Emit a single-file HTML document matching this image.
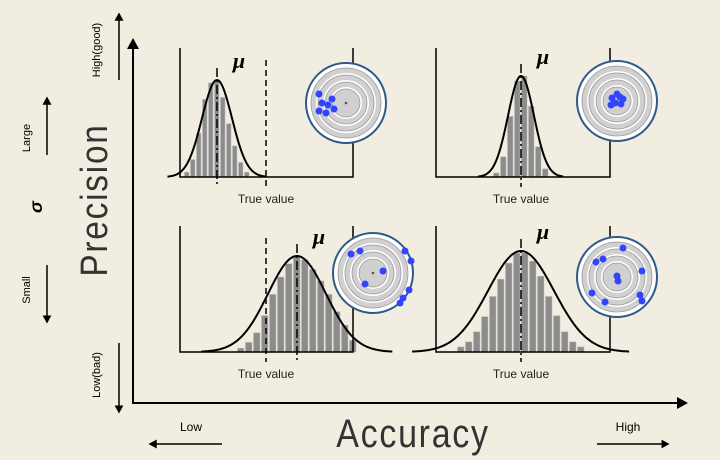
<!DOCTYPE html>
<html><head><meta charset="utf-8"><style>
body{margin:0;background:#f1ede0;}
svg{display:block;font-family:"Liberation Sans",sans-serif;}
</style></head><body>
<svg id="c" width="720" height="460">
<rect width="720" height="460" fill="#f1ede0"/>
<defs><marker id="ah" markerWidth="6" markerHeight="6" refX="4.5" refY="3" orient="auto"><path d="M0,0 L5.5,3 L0,6 Z" fill="#000"/></marker></defs>
<g id="axes">
<line x1="133" y1="404" x2="133" y2="40" stroke="#000" stroke-width="2" marker-end="url(#ah)"/>
<line x1="133" y1="403" x2="686" y2="403" stroke="#000" stroke-width="2" marker-end="url(#ah)"/>
<text transform="translate(107,200) rotate(-90) scale(0.88,1)" text-anchor="middle" font-size="38" fill="#333" letter-spacing="2">Precision</text>
<text transform="translate(413,447) scale(0.85,1)" text-anchor="middle" font-size="40" fill="#333" letter-spacing="2">Accuracy</text>
<text transform="translate(100,50) rotate(-90)" text-anchor="middle" font-size="11">High(good)</text>
<line x1="119" y1="80" x2="119" y2="14" stroke="#000" stroke-width="1.5" marker-end="url(#ah)"/>
<text transform="translate(100,375) rotate(-90)" text-anchor="middle" font-size="11">Low(bad)</text>
<line x1="119" y1="343" x2="119" y2="412" stroke="#000" stroke-width="1.5" marker-end="url(#ah)"/>
<text transform="translate(30,138) rotate(-90)" text-anchor="middle" font-size="11">Large</text>
<line x1="47" y1="155" x2="47" y2="98" stroke="#000" stroke-width="1.5" marker-end="url(#ah)"/>
<text transform="translate(42,207) rotate(-90)" text-anchor="middle" font-size="18" font-weight="bold" font-style="italic">σ</text>
<text transform="translate(30,290) rotate(-90)" text-anchor="middle" font-size="11">Small</text>
<line x1="47" y1="265" x2="47" y2="322" stroke="#000" stroke-width="1.5" marker-end="url(#ah)"/>
<text x="191" y="431" text-anchor="middle" font-size="12">Low</text>
<line x1="222" y1="444" x2="150" y2="444" stroke="#000" stroke-width="1.5" marker-end="url(#ah)"/>
<text x="628" y="431" text-anchor="middle" font-size="12">High</text>
<line x1="597" y1="444" x2="668" y2="444" stroke="#000" stroke-width="1.5" marker-end="url(#ah)"/>
</g>
</svg>
<script>
// panel data: histogram bin heights (relative to peak)
const tlBins = [0.05,0.18,0.45,0.8,0.97,1.0,0.82,0.55,0.32,0.15,0.05];
const trBins = [0.04,0.2,0.6,0.95,1.0,0.7,0.3,0.08];
const blBins = [0.04,0.1,0.2,0.38,0.6,0.78,0.92,1.0,0.96,0.86,0.74,0.6,0.42,0.28,0.12];
const brBins = [0.05,0.1,0.2,0.35,0.55,0.72,0.88,0.98,0.98,0.9,0.75,0.55,0.36,0.2,0.1,0.05];
const tlTargetPts = [[-24,0],[-27,8],[-18,2],[-14,-4],[-12,6],[-20,10],[-27,-9]];
const trTargetPts = [[-5,-3],[3,-4],[-2,2],[4,3],[-6,4],[0,-7],[6,-2]];
const blTargetPts = [[-22,-19],[-13,-22],[-8,11],[10,-2],[32,-22],[38,-12],[36,17],[30,25],[27,30]];
const brTargetPts = [[6,-29],[-21,-15],[-14,-18],[25,-6],[0,-1],[1,4],[-25,16],[-12,25],[23,18],[25,24]];
const panels=[
 {name:'tl',bins:tlBins,pts:tlTargetPts,x0:180,x1:353,top:48,base:177,mean:217,sig:15,peak:80,bw:6,truth:266,tx:346,ty:103},
 {name:'tr',bins:trBins,pts:trTargetPts,x0:436,x1:610,top:48,base:177,mean:521,sig:13,peak:76,bw:7,truth:521,tx:617,ty:101},
 {name:'bl',bins:blBins,pts:blTargetPts,x0:180,x1:353,top:226,base:352,mean:297,sig:29,peak:256,bw:8,truth:266,tx:373,ty:273},
 {name:'br',bins:brBins,pts:brTargetPts,x0:436,x1:610,top:226,base:352,mean:521,sig:33,peak:251,bw:8,truth:521,tx:617,ty:277}
];
const svg=document.getElementById('c');const NS='http://www.w3.org/2000/svg';
function mk(t,a,p){const e=document.createElementNS(NS,t);for(const k in a)e.setAttribute(k,a[k]);(p||svg).appendChild(e);return e;}
panels.forEach(P=>{
 const g=mk('g',{});
 
 
 const H=P.base-P.peak;
 const n=P.bins.length, start=P.mean-n*P.bw/2;
 P.bins.forEach((v,i)=>{
  const r=mk('rect',{x:start+i*P.bw+0.5,y:P.base-v*H,width:P.bw-1.5,height:v*H,fill:'#8c8c8c',stroke:'#bbb','stroke-width':0.5},g);
  
  
 });
 const box=mk('path',{d:`M${P.x0},${P.top} V${P.base} H${P.x1} V${P.top}`,fill:'none',stroke:'#000','stroke-width':1.5},g);
 
 
 let d='';for(let x=P.mean-3.3*P.sig;x<=P.mean+3.3*P.sig;x+=1){const y=P.base-H*Math.exp(-0.5*((x-P.mean)/P.sig)**2);d+=(d?'L':'M')+x+','+y.toFixed(1);}
 const c=mk('path',{d,fill:'none',stroke:'#000','stroke-width':2},g);
 
 
 const m=mk('line',{x1:P.mean,x2:P.mean,y1:P.peak-12,y2:P.base+10,stroke:'#000','stroke-width':1.5,'stroke-dasharray':'9,3,2,3'},g);
 
 
 const mu=mk('text',{x:P.mean+22,y:P.peak-12,'font-size':22,'font-style':'italic','font-weight':'bold','font-family':'Liberation Serif, serif','text-anchor':'middle'},g);mu.textContent='μ';
 
 
 if(P.truth!==P.mean){const t=mk('line',{x1:P.truth,x2:P.truth,y1:P.top+12,y2:P.base+10,stroke:'#000','stroke-width':1.5,'stroke-dasharray':'6,4'},g);
  
  }
 const tl=mk('text',{x:P.truth,y:P.base+26,'font-size':12,'text-anchor':'middle',fill:'#222'},g);tl.textContent='True value';
 
 
 const tg=mk('g',{},g);
 
 
 mk('circle',{cx:P.tx,cy:P.ty,r:40,fill:'#fff',stroke:'#2e5a8a','stroke-width':2},tg);
 [[35,'#d0d0d0'],[30,'#fff'],[28,'#d0d0d0'],[23,'#fff'],[21,'#d0d0d0'],[16,'#fff'],[14,'#d0d0d0']].forEach(([r,f])=>mk('circle',{cx:P.tx,cy:P.ty,r,fill:f,stroke:f==='#fff'?'none':'#999','stroke-width':0.8},tg));
 mk('circle',{cx:P.tx,cy:P.ty,r:1.3,fill:'#555'},tg);
 P.pts.forEach(p=>{const h=mk('circle',{cx:P.tx+p[0],cy:P.ty+p[1],r:3.5,fill:'#3344ff'},tg);
  
  });
});
</script>
</body></html>
